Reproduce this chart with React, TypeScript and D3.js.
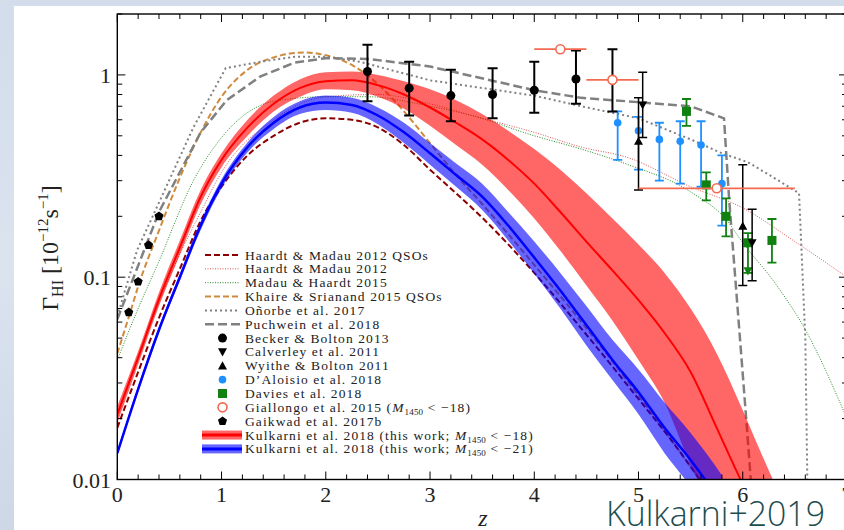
import React from 'react';
import * as d3 from 'd3';

const W = 844;
const H = 530;

// ---- model curves (z, Gamma_HI in 1e-12 s^-1) ----
const hm12QsoZ = [0, 0.2, 0.4, 0.6, 0.8, 1.0, 1.25, 1.5, 1.75, 2.0, 2.25, 2.5, 2.75, 3.0, 3.25, 3.5, 4.0, 4.5, 5.0, 5.3, 5.6];
const hm12QsoG = [0.018, 0.034, 0.063, 0.11, 0.19, 0.28, 0.40, 0.50, 0.58, 0.61, 0.60, 0.55, 0.45, 0.34, 0.26, 0.197, 0.105, 0.052, 0.025, 0.016, 0.0098];

const hm12Z = [0, 0.2, 0.4, 0.6, 0.8, 1.0, 1.5, 2.0, 2.5, 3.0, 3.4, 4.0, 4.45, 4.9, 5.5, 6.0, 6.5, 7.0];
const hm12G = [0.02, 0.04, 0.075, 0.13, 0.21, 0.33, 0.6, 0.78, 0.8, 0.72, 0.63, 0.52, 0.44, 0.39, 0.28, 0.22, 0.15, 0.1];

const mh15Z = [0, 0.2, 0.4, 0.73, 1.0, 1.5, 2.0, 2.4, 3.0, 3.4, 4.0, 4.45, 4.9, 5.5, 5.85, 6.0, 6.3, 6.6, 7.0];
const mh15G = [0.039, 0.07, 0.12, 0.3, 0.49, 0.74, 0.78, 0.78, 0.7, 0.63, 0.5, 0.43, 0.36, 0.264, 0.19, 0.148, 0.095, 0.055, 0.02];

const ks15Z = [0, 0.12, 0.2, 0.4, 0.6, 0.8, 1.0, 1.25, 1.5, 1.8, 2.0, 2.25, 2.5, 2.75, 3.0, 3.25, 3.5, 4.0, 4.5, 5.0, 5.6];
const ks15G = [0.042, 0.066, 0.09, 0.17, 0.31, 0.52, 0.78, 1.06, 1.22, 1.29, 1.25, 1.12, 0.9, 0.66, 0.46, 0.32, 0.23, 0.115, 0.056, 0.026, 0.0098];

const onorbeZ = [0, 0.19, 0.41, 0.73, 1.04, 1.37, 1.7, 2.0, 2.33, 3.0, 4.0, 4.45, 5.0, 5.5, 5.8, 6.05, 6.3, 6.54, 6.6, 6.62];
const onorbeG = [0.064, 0.136, 0.24, 0.55, 1.08, 1.16, 1.23, 1.23, 1.16, 0.94, 0.79, 0.7, 0.61, 0.48, 0.41, 0.37, 0.31, 0.26, 0.05, 0.0095];

const puchZ = [0, 0.4, 0.8, 1.05, 1.37, 1.7, 2.0, 2.4, 3.0, 4.0, 4.45, 4.9, 5.5, 5.82, 5.87, 6.04, 6.08];
const puchG = [0.062, 0.21, 0.52, 0.75, 0.98, 1.15, 1.21, 1.2, 1.1, 0.84, 0.77, 0.74, 0.7, 0.61, 0.24, 0.018, 0.0095];

// ---- Kulkarni et al. 2018 (this work) ----
const k18Z = [0, 0.2, 0.4, 0.6, 0.8, 1.0, 1.25, 1.5, 1.75, 2.0, 2.25, 2.5, 2.75, 3.0, 3.25, 3.5, 3.75, 4.0, 4.25, 4.5, 4.75, 5.0, 5.25, 5.5, 5.75, 6.0, 6.15, 6.35];
const k18G = [0.021, 0.04, 0.078, 0.14, 0.25, 0.38, 0.55, 0.72, 0.86, 0.93, 0.94, 0.89, 0.8, 0.69, 0.58, 0.48, 0.38, 0.29, 0.21, 0.15, 0.108, 0.077, 0.053, 0.034, 0.018, 0.0095, 0.0068, 0.0045];
const k18Hi = [0.023, 0.043, 0.084, 0.152, 0.27, 0.41, 0.6, 0.79, 0.95, 1.03, 1.04, 1.0, 0.93, 0.85, 0.75, 0.64, 0.53, 0.43, 0.34, 0.26, 0.195, 0.145, 0.105, 0.07, 0.042, 0.022, 0.0145, 0.0085];
const k18Lo = [0.019, 0.037, 0.072, 0.129, 0.23, 0.35, 0.5, 0.66, 0.78, 0.85, 0.84, 0.78, 0.68, 0.56, 0.45, 0.36, 0.27, 0.195, 0.135, 0.091, 0.061, 0.039, 0.024, 0.0118, 0.0065, 0.0035, 0.0024, 0.0015];

const k21Z = [0, 0.2, 0.4, 0.6, 0.8, 1.0, 1.25, 1.5, 1.75, 2.0, 2.25, 2.5, 2.75, 3.0, 3.25, 3.5, 3.75, 4.0, 4.25, 4.5, 4.75, 5.0, 5.25, 5.5, 5.65, 5.8];
const k21G = [0.0135, 0.028, 0.055, 0.1, 0.18, 0.29, 0.44, 0.58, 0.69, 0.73, 0.71, 0.63, 0.52, 0.41, 0.32, 0.25, 0.18, 0.125, 0.086, 0.058, 0.039, 0.027, 0.018, 0.0125, 0.0098, 0.0075];
const k21Hi = [0.0139, 0.029, 0.057, 0.104, 0.189, 0.305, 0.465, 0.62, 0.74, 0.79, 0.77, 0.69, 0.58, 0.46, 0.365, 0.29, 0.21, 0.15, 0.105, 0.072, 0.049, 0.035, 0.024, 0.017, 0.0135, 0.0105];
const k21Lo = [0.0131, 0.027, 0.053, 0.096, 0.171, 0.275, 0.415, 0.54, 0.64, 0.67, 0.65, 0.57, 0.46, 0.36, 0.28, 0.215, 0.152, 0.104, 0.07, 0.046, 0.031, 0.021, 0.0135, 0.0092, 0.007, 0.0053];

// ---- observations ----
const beckerZ = [2.4, 2.8, 3.2, 3.6, 4.0, 4.4, 4.75];
const beckerG = [1.04, 0.86, 0.79, 0.8, 0.84, 0.955, 0.94];
const beckerHi = [1.41, 1.16, 1.06, 1.08, 1.16, 1.32, 1.34];
const beckerLo = [0.74, 0.63, 0.59, 0.61, 0.65, 0.72, 0.66];

const calverleyZ = [5.04, 6.09];
const calverleyG = [0.71, 0.148];
const calverleyHi = [1.03, 0.217];
const calverleyLo = [0.49, 0.096];

const wytheZ = [5.0, 6.0];
const wytheG = [0.47, 0.179];
const wytheHi = [0.77, 0.36];
const wytheLo = [0.27, 0.091];

const daloisioZ = [4.8, 5.0, 5.2, 5.4, 5.6, 5.8];
const daloisioG = [0.58, 0.53, 0.48, 0.47, 0.45, 0.29];
const daloisioHi = [0.66, 0.62, 0.58, 0.59, 0.59, 0.4];
const daloisioLo = [0.38, 0.34, 0.3, 0.29, 0.28, 0.18];

const daviesZ = [5.46, 5.65, 5.84, 6.05, 6.28];
const daviesG = [0.66, 0.286, 0.2, 0.148, 0.152];
const daviesHi = [0.76, 0.33, 0.245, 0.165, 0.194];
const daviesLo = [0.56, 0.24, 0.159, 0.105, 0.118];

const giallongoZ = [4.25, 4.75, 5.75];
const giallongoG = [1.34, 0.945, 0.275];
const giallongoZLo = [4.0, 4.5, 5.0];
const giallongoZHi = [4.5, 5.0, 6.5];

const gaikwadZ = [0.11, 0.2, 0.3, 0.4];
const gaikwadG = [0.067, 0.095, 0.144, 0.2];

// ---- axes ----
const xTicks = [0, 1, 2, 3, 4, 5, 6, 7];
const yTicks = [0.01, 0.1, 1];
const yTickLabels = ['0.01', '0.1', '1'];

const legendLabels = [
  'Haardt & Madau 2012 QSOs',
  'Haardt & Madau 2012',
  'Madau & Haardt 2015',
  'Khaire & Srianand 2015 QSOs',
  'Oñorbe et al. 2017',
  'Puchwein et al. 2018',
  'Becker & Bolton 2013',
  'Calverley et al. 2011',
  'Wyithe & Bolton 2011',
  'D’Aloisio et al. 2018',
  'Davies et al. 2018',
  'Giallongo et al. 2015 (',
  'Gaikwad et al. 2017b',
  'Kulkarni et al. 2018 (this work; ',
  'Kulkarni et al. 2018 (this work; ',
];
const legendSuffix = ['', '', '', '', '', '', '', '', '', '', '', ' < −18)', '', ' < −18)', ' < −21)'];

const x = d3.scaleLinear().domain([0, 7]).range([117.3, 847]);
const y = d3.scaleLog().domain([0.01, 2]).range([479.5, 14]);

const serif = "'Liberation Serif', 'DejaVu Serif', serif";

function zip(zs: number[], gs: number[]): [number, number][] {
  return zs.map((z, i) => [z, gs[i]]);
}

const lineGen = d3
  .line<[number, number]>()
  .x((d) => x(d[0]))
  .y((d) => y(d[1]))
  .curve(d3.curveMonotoneX);

const lineLin = d3
  .line<[number, number]>()
  .x((d) => x(d[0]))
  .y((d) => y(d[1]))
  .curve(d3.curveLinear);

function bandPath(zs: number[], lo: number[], hi: number[]) {
  const a = d3
    .area<number>()
    .x((_, i) => x(zs[i]))
    .y0((_, i) => y(lo[i]))
    .y1((_, i) => y(hi[i]))
    .curve(d3.curveMonotoneX);
  return a(zs.map((_, i) => i)) || '';
}

const C = {
  hm12qso: '#8b0000',
  hm12: '#d9534f',
  mh15: '#228b22',
  ks15: '#d08a3c',
  gray: '#808080',
  redBand: 'rgba(255,0,0,0.6)',
  blueBand: 'rgba(0,0,255,0.6)',
  red: '#ff0000',
  blue: '#0000ff',
  dal: '#1e90ff',
  davies: '#108010',
  gial: '#f46a50',
};

function pentagon(cx: number, cy: number, r: number) {
  const pts: string[] = [];
  for (let k = 0; k < 5; k++) {
    const a = -Math.PI / 2 + (k * 2 * Math.PI) / 5;
    pts.push(`${cx + r * Math.cos(a)},${cy + r * Math.sin(a)}`);
  }
  return pts.join(' ');
}
function triDown(cx: number, cy: number, r: number) {
  return `${cx - r},${cy - r * 0.8} ${cx + r},${cy - r * 0.8} ${cx},${cy + r}`;
}
function triUp(cx: number, cy: number, r: number) {
  return `${cx - r},${cy + r * 0.8} ${cx + r},${cy + r * 0.8} ${cx},${cy - r}`;
}

function ErrBars({ zs, hi, lo, color, w, cap }: { zs: number[]; hi: number[]; lo: number[]; color: string; w: number; cap: number }) {
  return (
    <g stroke={color} strokeWidth={w} fill="none">
      {zs.map((z, i) => (
        <g key={i}>
          <line x1={x(z)} x2={x(z)} y1={y(hi[i])} y2={y(lo[i])} />
          <line x1={x(z) - cap} x2={x(z) + cap} y1={y(hi[i])} y2={y(hi[i])} />
          <line x1={x(z) - cap} x2={x(z) + cap} y1={y(lo[i])} y2={y(lo[i])} />
        </g>
      ))}
    </g>
  );
}

export default function App() {
  const plotL = x(0);
  const plotR = x(7);
  const plotT = y(2);
  const plotB = y(0.01);

  const xMinor: number[] = [];
  for (let v = 0; v <= 7.0001; v += 0.2) xMinor.push(+v.toFixed(2));
  const yMinor: number[] = [];
  [0.01, 0.1, 1].forEach((d) => {
    for (let m = 2; m <= 9; m++) if (d * m <= 2.0001) yMinor.push(d * m);
  });

  const legX1 = 205;
  const legX2 = 240;
  const legTX = 245;
  const legY0 = 255;
  const legDY = 13.85;
  const ly = (i: number) => legY0 + i * legDY;
  const lmx = 222.5;

  const legendLine = (i: number, color: string, w: number, dash: string) => (
    <line key={'ll' + i} x1={legX1} x2={legX2} y1={ly(i)} y2={ly(i)} stroke={color} strokeWidth={w} strokeDasharray={dash} />
  );

  return (
    <svg width={W} height={H} style={{ position: 'absolute', left: 0, top: 0 }} xmlns="http://www.w3.org/2000/svg">
      <defs>
        <clipPath id="plotclip">
          <rect x={plotL} y={plotT} width={plotR - plotL} height={plotB - plotT} />
        </clipPath>
        <linearGradient id="bgl" x1="0" y1="0" x2="0" y2="1">
          <stop offset="0" stopColor="#d3dcea" />
          <stop offset="0.5" stopColor="#dbe3ef" />
          <stop offset="1" stopColor="#cdd7e6" />
        </linearGradient>
      </defs>
      <rect x={0} y={0} width={W} height={H} fill="url(#bgl)" />
      <rect x={14} y={6} width={W - 14} height={H - 6} fill="#ffffff" />

      <g clipPath="url(#plotclip)">
        {/* models */}
        <path d={lineGen(zip(hm12Z, hm12G)) || ''} fill="none" stroke={C.hm12} strokeWidth={1} strokeDasharray="1,1.5" />
        <path d={lineGen(zip(mh15Z, mh15G)) || ''} fill="none" stroke={C.mh15} strokeWidth={1} strokeDasharray="1,1.5" />
        <path d={lineGen(zip(ks15Z, ks15G)) || ''} fill="none" stroke={C.ks15} strokeWidth={2} strokeDasharray="6,3" />
        <path d={lineGen(zip(hm12QsoZ, hm12QsoG)) || ''} fill="none" stroke={C.hm12qso} strokeWidth={2} strokeDasharray="6,3" />
        <path d={lineLin(zip(onorbeZ, onorbeG)) || ''} fill="none" stroke={C.gray} strokeWidth={2} strokeDasharray="2,3" />
        <path d={lineLin(zip(puchZ, puchG)) || ''} fill="none" stroke={C.gray} strokeWidth={2.5} strokeDasharray="9,4" />

        {/* Kulkarni bands */}
        <path d={bandPath(k18Z, k18Lo, k18Hi)} fill={C.redBand} stroke="none" />
        <path d={bandPath(k21Z, k21Lo, k21Hi)} fill={C.blueBand} stroke="none" />
        <path d={lineGen(zip(k18Z, k18G)) || ''} fill="none" stroke={C.red} strokeWidth={2} />
        <path d={lineGen(zip(k21Z, k21G)) || ''} fill="none" stroke={C.blue} strokeWidth={2.5} />

        {/* observations */}
        <ErrBars zs={daloisioZ} hi={daloisioHi} lo={daloisioLo} color={C.dal} w={1.8} cap={4.5} />
        {daloisioZ.map((z, i) => (
          <circle key={'da' + i} cx={x(z)} cy={y(daloisioG[i])} r={3.8} fill={C.dal} />
        ))}
        <ErrBars zs={daviesZ} hi={daviesHi} lo={daviesLo} color={C.davies} w={1.8} cap={4.5} />
        {daviesZ.map((z, i) => (
          <rect key={'dv' + i} x={x(z) - 4.5} y={y(daviesG[i]) - 4.5} width={9} height={9} fill={C.davies} />
        ))}
        <polygon points={triDown(x(daviesZ[3]), y(daviesLo[3]) - 2, 4.5)} fill={C.davies} />

        <ErrBars zs={beckerZ} hi={beckerHi} lo={beckerLo} color="#000" w={2} cap={5} />
        {beckerZ.map((z, i) => (
          <circle key={'bb' + i} cx={x(z)} cy={y(beckerG[i])} r={4.5} fill="#000" />
        ))}
        <ErrBars zs={calverleyZ} hi={calverleyHi} lo={calverleyLo} color="#000" w={1.5} cap={4.5} />
        {calverleyZ.map((z, i) => (
          <polygon key={'cv' + i} points={triDown(x(z), y(calverleyG[i]), 4.5)} fill="#000" />
        ))}
        <ErrBars zs={wytheZ} hi={wytheHi} lo={wytheLo} color="#000" w={1.5} cap={4.5} />
        {wytheZ.map((z, i) => (
          <polygon key={'wb' + i} points={triUp(x(z), y(wytheG[i]), 4.5)} fill="#000" />
        ))}

        {giallongoZ.map((z, i) => (
          <g key={'gi' + i}>
            <line x1={x(giallongoZLo[i])} x2={x(giallongoZHi[i])} y1={y(giallongoG[i])} y2={y(giallongoG[i])} stroke={C.gial} strokeWidth={1.8} />
            <circle cx={x(z)} cy={y(giallongoG[i])} r={4.5} fill="#fff" stroke={C.gial} strokeWidth={1.6} />
          </g>
        ))}
        {gaikwadZ.map((z, i) => (
          <polygon key={'gk' + i} points={pentagon(x(z), y(gaikwadG[i]), 4.8)} fill="#000" />
        ))}
      </g>

      {/* spines */}
      <rect x={plotL} y={plotT} width={plotR - plotL} height={plotB - plotT} fill="none" stroke="#000" strokeWidth={1.4} />

      {/* ticks */}
      <g stroke="#000" strokeWidth={1}>
        {xMinor.map((v, i) => {
          const major = Math.abs(v - Math.round(v)) < 1e-6;
          const len = major ? 8 : 5;
          return (
            <g key={'xt' + i}>
              <line x1={x(v)} x2={x(v)} y1={plotB} y2={plotB - len} />
              <line x1={x(v)} x2={x(v)} y1={plotT} y2={plotT + len} />
            </g>
          );
        })}
        {yTicks.map((v, i) => (
          <g key={'yT' + i}>
            <line x1={plotL} x2={plotL + 8} y1={y(v)} y2={y(v)} />
            <line x1={plotR} x2={plotR - 8} y1={y(v)} y2={y(v)} />
          </g>
        ))}
        {yMinor.map((v, i) => (
          <g key={'ym' + i}>
            <line x1={plotL} x2={plotL + 5} y1={y(v)} y2={y(v)} />
            <line x1={plotR} x2={plotR - 5} y1={y(v)} y2={y(v)} />
          </g>
        ))}
      </g>

      {/* tick labels */}
      <g fontFamily={serif} fontSize={22} fill="#222">
        {xTicks.map((v) => (
          <text key={'xl' + v} x={x(v)} y={502} textAnchor="middle">
            {v}
          </text>
        ))}
        {yTicks.map((v, i) => (
          <text key={'yl' + v} x={111} y={y(v) + 8} textAnchor="end">
            {yTickLabels[i]}
          </text>
        ))}
      </g>

      {/* axis labels */}
      <text x={483} y={526} fontFamily={serif} fontSize={24} fontStyle="italic" textAnchor="middle" fill="#222">
        z
      </text>
      <text transform="translate(58,248) rotate(-90)" fontFamily={serif} fontSize={24} textAnchor="middle" fill="#222">
        Γ<tspan fontSize={16} dy={5}>HI</tspan>
        <tspan dy={-5}> [10</tspan>
        <tspan fontSize={15} dy={-10}>−12</tspan>
        <tspan dy={10}>s</tspan>
        <tspan fontSize={15} dy={-10}>−1</tspan>
        <tspan dy={10}>]</tspan>
      </text>

      {/* legend */}
      <g>
        {legendLine(0, C.hm12qso, 2, '6,3')}
        {legendLine(1, C.hm12, 1, '1,1.5')}
        {legendLine(2, C.mh15, 1, '1,1.5')}
        {legendLine(3, C.ks15, 2, '6,3')}
        {legendLine(4, C.gray, 2, '2,3')}
        {legendLine(5, C.gray, 2.5, '9,4')}
        <circle cx={lmx} cy={ly(6)} r={4.5} fill="#000" />
        <polygon points={triDown(lmx, ly(7), 4.5)} fill="#000" />
        <polygon points={triUp(lmx, ly(8), 4.5)} fill="#000" />
        <circle cx={lmx} cy={ly(9)} r={3.8} fill={C.dal} />
        <rect x={lmx - 4.5} y={ly(10) - 4.5} width={9} height={9} fill={C.davies} />
        <circle cx={lmx} cy={ly(11)} r={4.5} fill="#fff" stroke={C.gial} strokeWidth={1.6} />
        <polygon points={pentagon(lmx, ly(12), 4.8)} fill="#000" />
        <rect x={202} y={ly(13) - 4.5} width={40} height={9} fill={C.redBand} />
        <line x1={202} x2={242} y1={ly(13)} y2={ly(13)} stroke={C.red} strokeWidth={3} />
        <rect x={202} y={ly(14) - 4.5} width={40} height={9} fill={C.blueBand} />
        <line x1={202} x2={242} y1={ly(14)} y2={ly(14)} stroke={C.blue} strokeWidth={3} />
        <g fontFamily={serif} fontSize={13.5} fill="#222" letterSpacing={1.1}>
          {legendLabels.map((t, i) => (
            <text key={'lt' + i} x={legTX} y={ly(i) + 4.5}>
              {t}
              {legendSuffix[i] ? (
                <>
                  <tspan fontStyle="italic">M</tspan>
                  <tspan fontSize={9} dy={3} letterSpacing={0.2}>1450</tspan>
                  <tspan dy={-3}>{legendSuffix[i]}</tspan>
                </>
              ) : null}
            </text>
          ))}
        </g>
      </g>

      <text x={606} y={526} fontFamily="'Open Sans', sans-serif" fontWeight={300} fontSize={35} fill="#1d4d4f" textLength={219} lengthAdjust="spacingAndGlyphs">
        Kulkarni+2019
      </text>
    </svg>
  );
}
